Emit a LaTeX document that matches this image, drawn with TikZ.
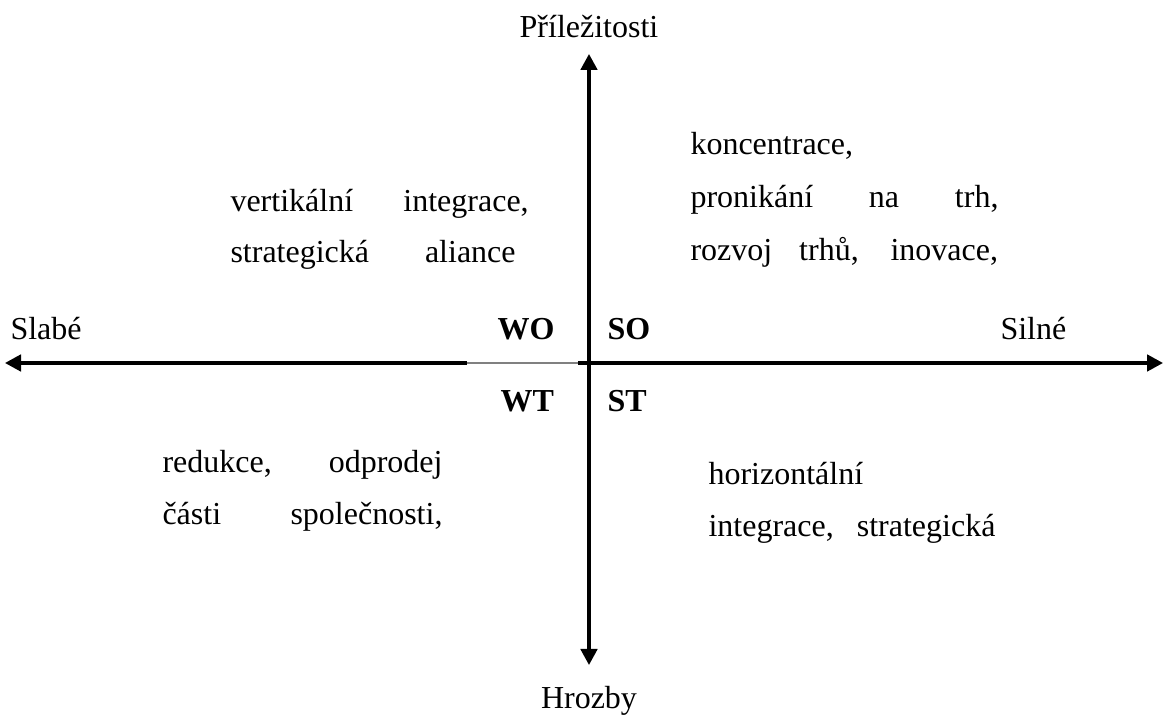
\documentclass[tikz,border=0pt]{standalone}
\usepackage{fontspec}
\setmainfont{Liberation Serif}
\usetikzlibrary{arrows.meta}
\tikzset{
    axisline/.style={line width=1.2pt, -{Triangle[length=6pt, width=6.2pt]}},
    gapline/.style={line width=0.55pt, gray},
    lbl/.style={inner sep=0pt, anchor=base west, font=\fontsize{12}{14}\selectfont},
    quad/.style={lbl, font=\fontsize{12}{14}\selectfont\bfseries},
}
\begin{document}
\begin{tikzpicture}[x=0.375pt, y=-0.375pt]
    \useasboundingbox (0,0) rectangle (1164,715);
    % Axes
        \coordinate (centre) at (589,363);
        \coordinate (west) at (5,363);
        \coordinate (east) at (1163,363);
        \coordinate (north) at (589,54);
        \coordinate (south) at (589,665);
        \coordinate (gapL) at (467,363);
        \coordinate (gapR) at (578,363);
        \draw[axisline] (gapL) -- (west);
        \draw[gapline] (gapL) -- (gapR);
        \draw[axisline] (gapR) -- (east);
        \draw[axisline] (centre) -- (north);
        \draw[axisline] (centre) -- (south);
    % Axis labels
        \node[lbl, anchor=base] (prilez) at (589,38) {Příležitosti};
        \node[lbl, anchor=base] (hrozby) at (589,708) {Hrozby};
        \node[lbl] (slabe) at (10,340) {Slabé};
        \node[lbl] (silne) at (1000,340) {Silné};
    % Quadrants
        \node[quad] (wo) at (497,340) {WO};
        \node[quad] (so) at (607,340) {SO};
        \node[quad] (wt) at (500,412) {WT};
        \node[quad] (st) at (607,412) {ST};
    % Strategies
        \node[lbl] (wo1) at (230,212) {\makebox[111.8pt][s]{vertikální integrace,}};
        \node[lbl] (wo2) at (230,263) {\makebox[106.9pt][s]{strategická aliance}};
        \node[lbl] (so1) at (690,155) {koncentrace,};
        \node[lbl] (so2) at (690,208) {\makebox[115.5pt][s]{pronikání na trh,}};
        \node[lbl] (so3) at (690,261) {\makebox[115.3pt][s]{rozvoj trhů, inovace,}};
        \node[lbl] (wt1) at (162,473) {\makebox[105pt][s]{redukce, odprodej}};
        \node[lbl] (wt2) at (162,525) {\makebox[105pt][s]{části společnosti,}};
        \node[lbl] (st1) at (708,485) {horizontální};
        \node[lbl] (st2) at (708,537) {\makebox[107.6pt][s]{integrace, strategická}};
\end{tikzpicture}
\end{document}
